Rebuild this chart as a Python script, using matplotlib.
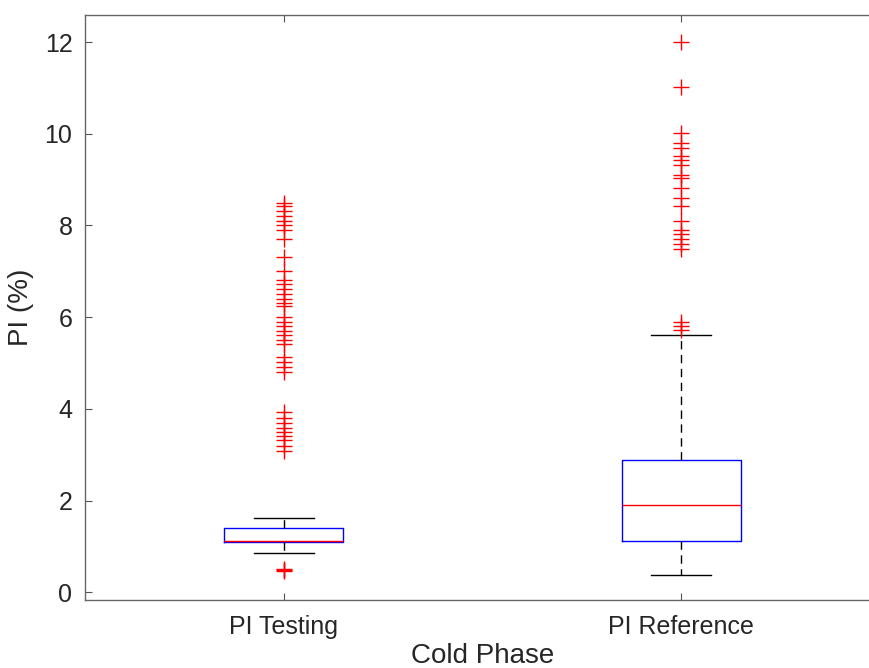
import matplotlib.pyplot as plt

# Cold phase boxplot
labels = ["PI Testing", "PI Reference"]

q1 = [1.10, 1.12]
med = [1.11, 1.90]
q3 = [1.39, 2.89]
whislo = [0.86, 0.38]
whishi = [1.62, 5.62]

fliers_testing = [0.46, 0.48, 0.50,
                  3.09, 3.20, 3.31, 3.40, 3.50, 3.59, 3.70, 3.81, 3.92,
                  4.81, 4.91, 5.02, 5.12, 5.41, 5.51, 5.62, 5.69, 5.80, 5.90,
                  6.01, 6.24, 6.30, 6.40, 6.50, 6.61, 6.72, 6.82, 7.00, 7.31,
                  7.71, 7.91, 8.00, 8.10, 8.21, 8.31, 8.42, 8.49]
fliers_reference = [5.71, 5.80, 5.90,
                    7.49, 7.60, 7.71, 7.81, 7.91, 8.10, 8.42, 8.60, 8.81,
                    9.03, 9.10, 9.32, 9.42, 9.51, 9.70, 9.80, 10.02, 11.01, 12.0]
fliers = [fliers_testing, fliers_reference]

stats = []
for i in range(2):
    stats.append(dict(label=labels[i], q1=q1[i], med=med[i], q3=q3[i],
                      whislo=whislo[i], whishi=whishi[i], fliers=fliers[i]))

plt.rcParams['font.family'] = ['Liberation Sans', 'DejaVu Sans']
txt = '#262626'

fig = plt.figure(figsize=(8.7, 6.68), dpi=100)
ax = fig.add_axes([0.0977, 0.1018, 0.9138, 0.8757])

ax.bxp(stats, positions=[1, 2], widths=0.3, showfliers=True,
       boxprops=dict(color='blue', linewidth=1),
       medianprops=dict(color='red', linewidth=1),
       whiskerprops=dict(color='black', linewidth=1, linestyle=(0, (6, 4))),
       capprops=dict(color='black', linewidth=1),
       flierprops=dict(marker='+', markeredgecolor='red', markersize=12,
                       markeredgewidth=1, linestyle='none'))

# caps half the box width, as in MATLAB
ax.set_xlim(0.5, 2.5)
ax.set_ylim(-0.17, 12.59)
ax.set_yticks([0, 2, 4, 6, 8, 10, 12])
ax.set_xticks([1, 2])
ax.set_xticklabels(labels)

ax.tick_params(direction='in', top=True, right=True, length=5, width=0.8,
               colors='#555555', labelcolor=txt, labelsize=18)
ax.tick_params(axis='x', pad=11)
ax.tick_params(axis='y', pad=9)
for s in ax.spines.values():
    s.set_color('#666666')
    s.set_linewidth(1)

ax.set_xlabel("Cold Phase", fontsize=20, color=txt, labelpad=3)
ax.set_ylabel("PI (%)", fontsize=20, color=txt, labelpad=8)

fig.savefig("out.png", dpi=100)
